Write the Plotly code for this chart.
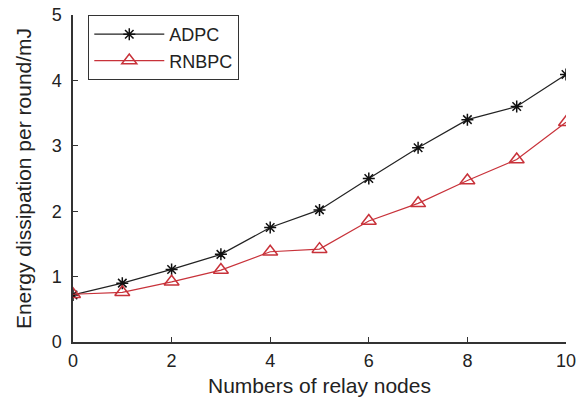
import plotly.graph_objects as go

x_nodes = [0, 1, 2, 3, 4, 5, 6, 7, 8, 9, 10]
adpc = [0.72, 0.90, 1.11, 1.34, 1.75, 2.02, 2.50, 2.97, 3.40, 3.60, 4.09]
rnbpc = [0.73, 0.76, 0.92, 1.10, 1.38, 1.42, 1.85, 2.12, 2.47, 2.79, 3.36]

fig = go.Figure()
fig.add_trace(go.Scatter(
    x=x_nodes, y=adpc, name="ADPC", mode="lines+markers",
    line=dict(color="#222222", width=1.2),
    marker=dict(symbol="asterisk-open", size=10, color="#111111", line=dict(width=1.5, color="#111111")),
))
fig.add_trace(go.Scatter(
    x=x_nodes, y=rnbpc, name="RNBPC", mode="lines+markers",
    line=dict(color="#c8323a", width=1.2),
    marker=dict(symbol="triangle-up-open", size=13, color="#c8323a", line=dict(width=1.5, color="#c8323a")),
))

fig.update_layout(
    width=581, height=405,
    margin=dict(l=72.5, r=14.5, t=14.5, b=62.5, autoexpand=False),
    paper_bgcolor="white", plot_bgcolor="white",
    font=dict(family="Liberation Sans, Arial, sans-serif", size=17, color="#222222"),
    showlegend=True,
    legend=dict(x=0.031, y=1.0, xanchor="left", yanchor="top",
                bordercolor="#333333", borderwidth=1, bgcolor="white",
                font=dict(size=18), tracegroupgap=0, itemwidth=70),
    xaxis=dict(range=[0, 10], tickvals=[0, 2, 4, 6, 8, 10], showgrid=False, zeroline=False,
               showline=True, linecolor="#333333", linewidth=1.5, automargin=False,
               ticks="inside", ticklen=5, tickcolor="#333333", ticklabelstandoff=2,
               tickfont=dict(size=18), ticklabeloverflow="allow",
               title=dict(text="Numbers of relay nodes", font=dict(size=21), standoff=8)),
    yaxis=dict(range=[0, 5], tickvals=[0, 1, 2, 3, 4, 5], showgrid=False, zeroline=False,
               showline=True, linecolor="#333333", linewidth=1.5, automargin=False,
               ticks="inside", ticklen=5, tickcolor="#333333", ticklabelstandoff=6,
               tickfont=dict(size=18), ticklabeloverflow="allow",
               title=dict(text="Energy dissipation per round/mJ", font=dict(size=21), standoff=14)),
)

fig.write_html("out.html", config={"displayModeBar": False},
               post_script="document.body.style.margin='0';")
